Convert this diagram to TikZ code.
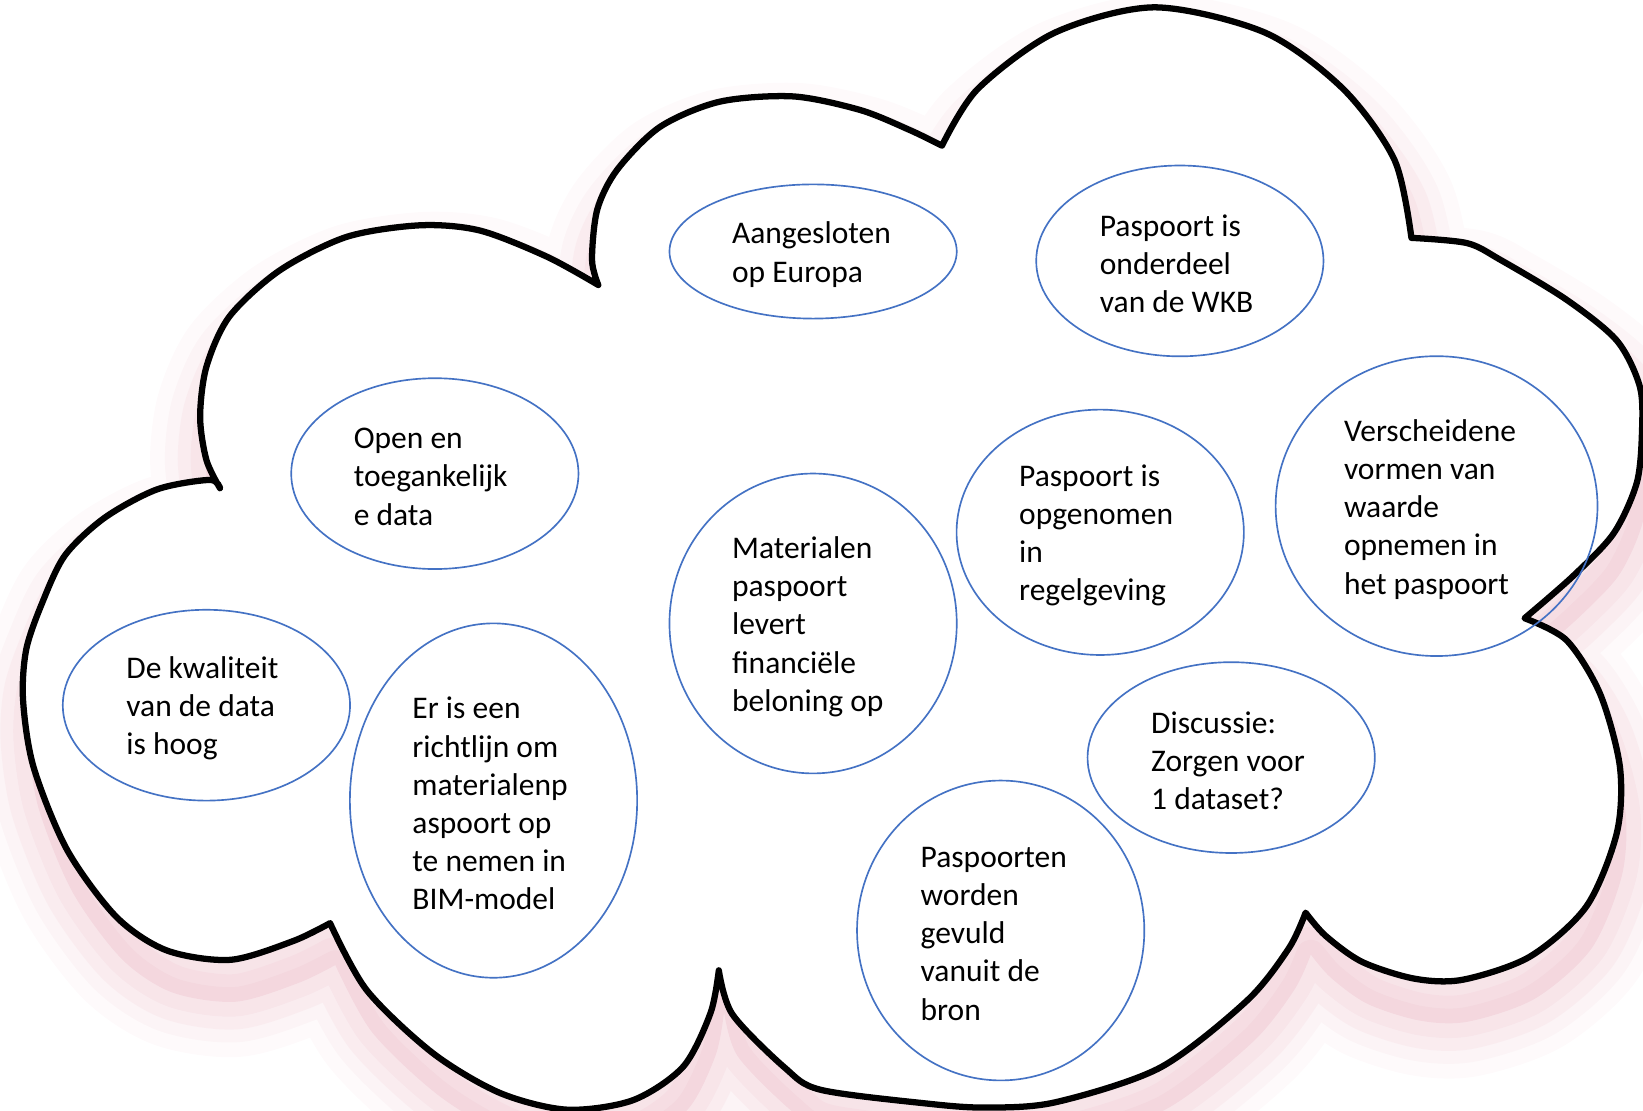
\documentclass[tikz,border=0pt]{standalone}
\usepackage{fontspec}
\setmainfont{Carlito}
\usetikzlibrary{shapes.geometric}
\definecolor{ebl}{HTML}{4472C4}
\definecolor{shd}{RGB}{214,110,135}
\begin{document}
\begin{tikzpicture}[x=0.01cm,y=-0.01cm,
  bubble/.style={ellipse, draw=ebl, line width=0.45pt, inner sep=0},
  btext/.style={anchor=west, align=left, inner sep=0, yshift=-0.03cm, font=\fontsize{8.55}{10.37}\selectfont},
  cloudline/.style={line width=1.7pt, line join=round, line cap=round}]
\useasboundingbox (0,0) rectangle (1568,1060);
\def\cloudpath{
  plot[smooth] coordinates {(571,272) (565,248) (570,200) (589,162) (630,121) (687,97) (757,92) (821,105) (868,124) (899,139)}
  -- plot[smooth] coordinates {(899,139) (933,85) (1007,31) (1102,7) (1207,31) (1282,85) (1331,153) (1347,227)}
  -- plot[smooth] coordinates {(1347,227) (1400,232) (1432,248) (1495,286) (1543,325) (1565,369) (1567,413) (1562,461) (1540,509) (1501,550) (1455,590)}
  -- plot[smooth] coordinates {(1455,590) (1495,611) (1527,662) (1546,732) (1543,795) (1514,865) (1460,913) (1396,935) (1350,934) (1300,918) (1265,893) (1246,871)}
  -- plot[smooth] coordinates {(1246,871) (1230,905) (1190,955) (1107,1019) (1007,1052) (940,1057) (883,1053) (783,1040) (749,1019) (699,968) (686,926)}
  -- plot[smooth] coordinates {(686,926) (678,967) (652,1018) (604,1050) (541,1059) (477,1043) (413,1005) (350,945) (315,881)}
  -- plot[smooth] coordinates {(315,881) (280,898) (220,916) (159,907) (111,875) (64,811) (32,732) (22,668) (25,620) (40,576) (62,530) (100,494) (150,467) (200,458) (210,466)}
  -- plot[smooth] coordinates {(210,466) (197,439) (191,398) (197,350) (219,302) (267,258) (331,226) (401,215) (458,220) (522,245) (571,272)}
  -- cycle}
% shadow
\begin{scope}[shift={(5,40)}]
  \fill[shd, opacity=0.12] \cloudpath;
  \foreach \w/\o in {30/0.035, 22/0.045, 15/0.055, 8/0.06}
    \draw[shd, opacity=\o, line width=\w pt, line join=round] \cloudpath;
\end{scope}
% cloud
\fill[white] \cloudpath;
\draw[cloudline] \cloudpath;
% bubbles
\node[bubble, minimum width=2.74cm, minimum height=1.28cm] (e1) at (776,240) {};
\node[bubble, minimum width=2.74cm, minimum height=1.82cm] (e2) at (1126,249) {};
\node[bubble, minimum width=2.74cm, minimum height=1.82cm] (e3) at (415,452) {};
\node[bubble, minimum width=2.74cm, minimum height=2.86cm] (e4) at (776,595) {};
\node[bubble, minimum width=2.74cm, minimum height=2.34cm] (e5) at (1050,508) {};
\node[bubble, minimum width=3.07cm, minimum height=2.86cm] (e6) at (1371,483) {};
\node[bubble, minimum width=2.74cm, minimum height=1.82cm] (e7) at (197,673) {};
\node[bubble, minimum width=2.74cm, minimum height=3.38cm] (e8) at (471,764) {};
\node[bubble, minimum width=2.74cm, minimum height=1.82cm] (e9) at (1175,723) {};
\node[bubble, minimum width=2.74cm, minimum height=2.86cm] (e10) at (955,888) {};
% texts
\node[btext, xshift=-0.78cm] (t1) at (e1.center) {Aangesloten\\op Europa};
\node[btext, xshift=-0.77cm] (t2) at (e2.center) {Paspoort is\\onderdeel\\van de WKB};
\node[btext, xshift=-0.78cm] (t3) at (e3.center) {Open en\\toegankelijk\\e data};
\node[btext, xshift=-0.78cm] (t4) at (e4.center) {Materialen\\paspoort\\levert\\financiële\\beloning op};
\node[btext, xshift=-0.78cm] (t5) at (e5.center) {Paspoort is\\opgenomen\\in\\regelgeving};
\node[btext, xshift=-0.89cm] (t6) at (e6.center) {Verscheidene\\vormen van\\waarde\\opnemen in\\het paspoort};
\node[btext, xshift=-0.77cm] (t7) at (e7.center) {De kwaliteit\\van de data\\is hoog};
\node[btext, xshift=-0.78cm] (t8) at (e8.center) {Er is een\\richtlijn om\\materialenp\\aspoort op\\te nemen in\\BIM-model};
\node[btext, xshift=-0.77cm] (t9) at (e9.center) {Discussie:\\Zorgen voor\\1 dataset?};
\node[btext, xshift=-0.77cm] (t10) at (e10.center) {Paspoorten\\worden\\gevuld\\vanuit de\\bron};
\end{tikzpicture}
\end{document}
